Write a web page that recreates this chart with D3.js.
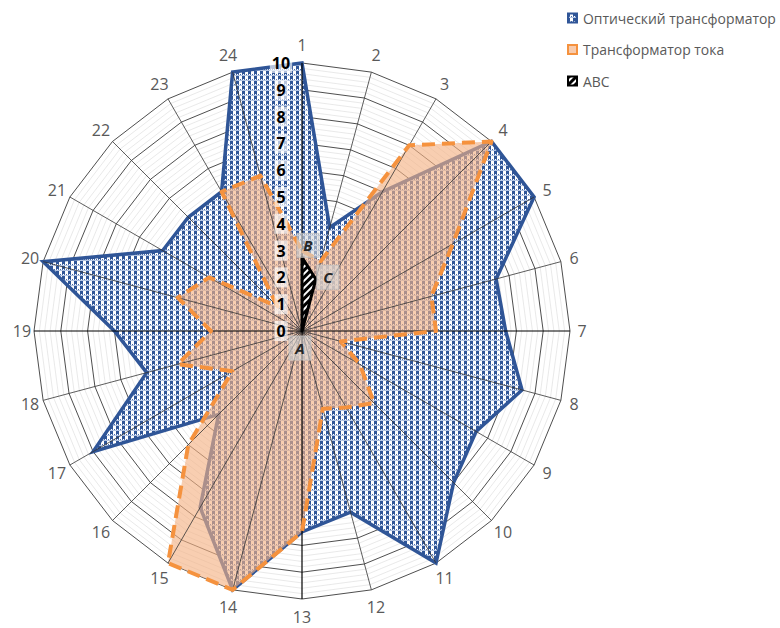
<!DOCTYPE html>
<html>
<head>
<meta charset="utf-8">
<script src="https://cdn.jsdelivr.net/npm/d3@7/dist/d3.min.js"></script>
<style>
  html, body { margin: 0; padding: 0; background: #ffffff; }
  svg { display: block; font-family: "Open Sans", "Noto Sans", sans-serif; }
</style>
</head>
<body>
<svg id="chart" width="780" height="628"></svg>
<script>
// Categories (radar axes) and series values
const categories = ["1","2","3","4","5","6","7","8","9","10","11","12",
                    "13","14","15","16","17","18","19","20","21","22","23","24"];
const opticalValues = [10, 4, 6, 10, 10, 7.5, 7.6, 8.5, 7.5, 8, 10, 7,
                       7.5, 10, 7.6, 4.4, 9, 6, 7, 10, 6, 6, 6, 10];
const currentValues = [3, 2.7, 8, 10, 6.5, 5, 5, 1.5, 2.5, 3.8, 3.3, 3,
                       7.5, 10, 10, 6, 3, 4.8, 3.4, 4.8, 4, 1.3, 6, 6];
const abcValues = [2.75, 2, 0, 0, 0, 0, 0, 0, 0, 0, 0, 0,
                   0, 0, 0, 0, 0, 0, 0, 0, 0, 0, 0, 0];
const seriesNames = ["Оптический трансформатор", "Трансформатор тока", "ABC"];
const tickValues = [0, 1, 2, 3, 4, 5, 6, 7, 8, 9, 10];
const pointLabels = [
  { text: "A", index: 0, value: 0 },
  { text: "B", index: 0, value: 2.75 },
  { text: "C", index: 1, value: 2 }
];

const svg = d3.select("#chart");
const cx = 302, cy = 331;
const r = d3.scaleLinear().domain([0, 10]).range([0, 268]);
const n = categories.length;
const angle = d3.scaleLinear().domain([0, n]).range([0, 2 * Math.PI]);
const pt = (i, v) => [cx + r(v) * Math.sin(angle(i)), cy - r(v) * Math.cos(angle(i))];

// ---- fill patterns ----
const defs = svg.append("defs");
const blueDark = "#2F5597";
// checked cloth: dark squares, white squares, dotted light rows between
const gp = defs.append("pattern").attr("id", "gingham")
  .attr("patternUnits", "userSpaceOnUse").attr("width", 6).attr("height", 5);
gp.append("rect").attr("width", 6).attr("height", 5).attr("fill", "#ffffff");
gp.append("rect").attr("x", 0).attr("y", 0).attr("width", 3).attr("height", 3).attr("fill", blueDark);
[0, 2, 4].forEach(x => gp.append("rect").attr("x", x).attr("y", 3).attr("width", 1).attr("height", 1).attr("fill", "#4A6DAA"));
gp.append("rect").attr("x", 0).attr("y", 4).attr("width", 6).attr("height", 1).attr("fill", "#B3C4E2");

const hp = defs.append("pattern").attr("id", "hatch")
  .attr("patternUnits", "userSpaceOnUse").attr("width", 5).attr("height", 5)
  .attr("patternTransform", "rotate(45)");
hp.append("rect").attr("width", 5).attr("height", 5).attr("fill", "#000000");
hp.append("rect").attr("x", 0).attr("width", 2).attr("height", 5).attr("fill", "#ffffff");

const g = svg.append("g");

// ---- grid: minor rings, major rings ----
const ring = v => d3.range(n).map(i => pt(i, v));
const minorVals = d3.range(0.2, 10.001, 0.2).filter(v => Math.abs(v - Math.round(v)) > 0.01);
g.append("g").selectAll("polygon").data(minorVals).join("polygon")
  .attr("points", v => ring(v).map(p => p.join(",")).join(" "))
  .attr("fill", "none").attr("stroke", "#e3e3e3").attr("stroke-width", 0.8);
g.append("g").selectAll("polygon").data(tickValues.filter(v => v > 0)).join("polygon")
  .attr("points", v => ring(v).map(p => p.join(",")).join(" "))
  .attr("fill", "none").attr("stroke", "#3a3a3a").attr("stroke-width", 0.9);

// ---- series ----
const radial = d3.lineRadial()
  .angle((d, i) => angle(i))
  .radius(d => r(d))
  .curve(d3.curveLinearClosed);

const series = g.append("g").attr("transform", `translate(${cx},${cy})`);
series.append("path").datum(opticalValues)
  .attr("d", radial)
  .attr("fill", "url(#gingham)")
  .attr("stroke", blueDark).attr("stroke-width", 3.5).attr("stroke-linejoin", "miter");

series.append("path").datum(currentValues)
  .attr("d", radial)
  .attr("fill", "#F4B183").attr("fill-opacity", 0.63)
  .attr("stroke", "none");

// ---- spokes ----
const spokes = g.append("g");
spokes.selectAll("line").data(categories).join("line")
  .attr("x1", cx).attr("y1", cy)
  .attr("x2", (d, i) => pt(i, 10)[0]).attr("y2", (d, i) => pt(i, 10)[1])
  .attr("stroke", (d, i) => i % 6 === 0 ? "#000000" : "#333333")
  .attr("stroke-width", (d, i) => i % 6 === 0 ? 1.2 : 0.8);

// orange dashed outline over the spokes
const outlines = g.append("g").attr("transform", `translate(${cx},${cy})`);
outlines.append("path").datum(currentValues)
  .attr("d", radial)
  .attr("fill", "none")
  .attr("stroke", "#F5923E").attr("stroke-width", 4)
  .attr("stroke-dasharray", "13,7").attr("stroke-linejoin", "round");

outlines.append("path").datum(abcValues)
  .attr("d", radial)
  .attr("fill", "url(#hatch)")
  .attr("stroke", "#000000").attr("stroke-width", 3).attr("stroke-linejoin", "round");

// ---- category labels ----
const labelRadius = i => 280 + 6 * Math.abs(Math.cos(angle(i)));
g.append("g").selectAll("text").data(categories).join("text")
  .attr("x", (d, i) => cx + labelRadius(i) * Math.sin(angle(i)))
  .attr("y", (d, i) => cy - labelRadius(i) * Math.cos(angle(i)))
  .attr("text-anchor", "middle").attr("dominant-baseline", "central")
  .attr("font-size", 16).attr("fill", "#595959")
  .text(d => d);

// ---- value tick labels along axis 1 ----
const tl = g.append("g");
tickValues.forEach(v => {
  const tg = tl.append("g");
  const t = tg.append("text")
    .attr("x", cx - 21).attr("y", cy - r(v))
    .attr("text-anchor", "middle").attr("dominant-baseline", "central")
    .attr("font-size", 16).attr("font-weight", "bold").attr("fill", "#000000")
    .text(v);
  const b = t.node().getBBox();
  tg.insert("rect", "text")
    .attr("x", b.x - 2).attr("y", b.y + 1).attr("width", b.width + 4).attr("height", b.height - 2)
    .attr("fill", "#ffffff").attr("fill-opacity", 0.65);
});

// ---- point labels A, B, C ----
const labelOffsets = { A: [-2, 17], B: [6, -12], C: [12, -2] };
const pl = g.append("g");
pointLabels.forEach(d => {
  const p = pt(d.index, d.value);
  const off = labelOffsets[d.text];
  const x = p[0] + off[0], y = p[1] + off[1];
  pl.append("rect")
    .attr("x", x - 11).attr("y", y - 12).attr("width", 22).attr("height", 24)
    .attr("fill", "#d9d9d9").attr("fill-opacity", 0.6)
    .attr("stroke", "#bfbfbf").attr("stroke-opacity", 0.8).attr("stroke-width", 1);
  pl.append("text")
    .attr("x", x).attr("y", y)
    .attr("text-anchor", "middle").attr("dominant-baseline", "central")
    .attr("font-size", 15).attr("font-style", "italic").attr("font-weight", "bold")
    .attr("fill", "#262626")
    .text(d.text);
});

// ---- legend ----
const legend = svg.append("g").attr("transform", "translate(567,18)");
const swatches = [
  { fill: "url(#gingham)", stroke: blueDark },
  { fill: "#F8CBAD", stroke: "#F5923E" },
  { fill: "url(#hatch)", stroke: "#000000" }
];
const legendTexts = [];
seriesNames.forEach((name, i) => {
  const row = legend.append("g").attr("transform", `translate(0,${i * 31.5})`);
  row.append("rect").attr("x", 1).attr("y", -4.5).attr("width", 9).attr("height", 9)
    .attr("fill", swatches[i].fill).attr("stroke", swatches[i].stroke).attr("stroke-width", 2);
  legendTexts.push(row.append("text").attr("x", 16).attr("y", 0)
    .attr("dominant-baseline", "central")
    .attr("font-size", 15).attr("fill", "#595959")
    .text(name));
});
// fit the longest legend entry into the space at the right edge
const longest = d3.max(legendTexts, t => t.node().getComputedTextLength());
const legendSize = Math.min(15, 15 * 193 / longest);
legendTexts.forEach(t => t.attr("font-size", legendSize));
</script>
</body>
</html>
